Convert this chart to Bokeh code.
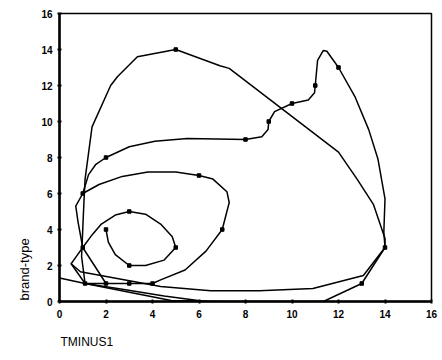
from bokeh.plotting import figure
from bokeh.models import Title, FixedTicker, Range1d
from bokeh.embed import file_html
from bokeh.resources import INLINE

# ---- data (TMINUS1 vs brand-type) ----
# inner spiral, starting at (2,4)
inner_x = [2, 2.1, 2.4, 3, 3.7, 4.5, 5, 4.85, 4.35, 3.7, 3, 2.4, 1.8, 1.4, 1.0, 0.75, 0.5, 1.1]
inner_y = [4, 3.3, 2.6, 2, 2.0, 2.3, 3, 3.6, 4.3, 4.85, 5, 4.8, 4.3, 3.7, 3.0, 2.55, 2.1, 1.0]

# middle loop
mid_x = [1.1, 2, 3, 4, 4.35, 5.4, 6.3, 7, 7.3, 7.2, 6.6, 6, 5, 3.8, 2.7, 1.7, 1.0, 0.7, 0.8, 1.0, 1.5, 2]
mid_y = [1.0, 1, 1, 1, 1.2, 1.75, 2.8, 4, 5.5, 6.1, 6.8, 7, 7.2, 7.2, 6.95, 6.5, 6.0, 5.3, 4.4, 3.0, 2.0, 1]

# outer spiral through (2,8) and up to (12,13)
outer_x = [1.0, 1.25, 1.55, 2, 3, 4.1, 5.5, 8, 8.7, 8.97, 9, 9.25, 10, 10.7, 10.97, 11, 11.1,
           11.35, 11.5, 12, 12.7, 13.3, 13.7, 13.85, 14.0, 13.95, 14]
outer_y = [6.0, 7.05, 7.6, 8, 8.6, 8.9, 9.05, 9, 9.15, 9.55, 10, 10.55, 11, 11.2, 11.6, 12, 13.4,
           13.95, 13.9, 13, 11.4, 9.55, 7.9, 6.8, 5.7, 3.85, 3]

# big loop through (5,14)
big_x = [1.1, 0.95, 1.0, 1.05, 1.1, 1.4, 2.2, 2.5, 3.35, 5, 6.9, 7.3, 12.0, 12.8, 13.5, 14.0, 14]
big_y = [1.0, 2.5, 4.0, 5.5, 6.8, 9.7, 12.0, 12.5, 13.6, 14, 13.1, 12.95, 8.3, 6.8, 5.4, 3.5, 3]

# lower return curve from (14,3)
low_x = [14, 13.07, 10.9, 8.6, 6.5, 4.35, 0.9, 0.5]
low_y = [3, 1.44, 0.72, 0.6, 0.6, 0.83, 1.65, 2.1]

# bottom curves
bot_x = [0, 1.1, 4.8, 7, 9, 11.35, 13, 14]
bot_y = [1.3, 1.0, 0.05, 0.0, 0.0, 0.0, 1, 3]
dip_x = [1.1, 2.5, 4.5, 6.2, 8.1, 10.2, 11.35]
dip_y = [1.0, 0.72, 0.3, 0.02, -0.3, -0.05, 0.0]

# observed data points (markers)
pt_x = [2, 3, 5, 3, 1, 1.1, 2, 3, 4, 7, 6, 1, 2, 8, 9, 10, 11, 12, 14, 13, 5]
pt_y = [4, 2, 3, 5, 3, 1.0, 1, 1, 1, 4, 7, 6, 8, 9, 10, 11, 12, 13, 3, 1, 14]

ticks = [0, 2, 4, 6, 8, 10, 12, 14, 16]
x_title = "TMINUS1"
y_title = "brand-type"

W, H = 438, 360
p = figure(width=W, height=H, output_backend="svg", toolbar_location=None,
           x_range=Range1d(0, 16), y_range=Range1d(0, 16),
           min_border_left=59, min_border_right=7, min_border_top=13, min_border_bottom=57)
p.background_fill_color = "white"
p.border_fill_color = "white"
p.outline_line_color = "black"
p.outline_line_width = 1.5
p.grid.visible = False

for ax in (p.xaxis, p.yaxis):
    ax.ticker = FixedTicker(ticks=ticks)
    ax.minor_tick_line_color = None
    ax.axis_line_width = 2.5
    ax.axis_line_color = "black"
    ax.major_tick_line_width = 2
    ax.major_tick_in = 2
    ax.major_tick_out = 2
    ax.major_label_text_font = "Liberation Sans"
    ax.major_label_text_font_style = "bold"
    ax.major_label_text_font_size = "10px"
    ax.major_label_text_color = "black"
p.xaxis.major_label_standoff = 6
p.yaxis.major_label_standoff = 5

for xs, ys in [(inner_x, inner_y), (mid_x, mid_y), (outer_x, outer_y), (big_x, big_y),
               (low_x, low_y), (bot_x, bot_y), (dip_x, dip_y)]:
    p.line(xs, ys, line_color="black", line_width=1.5, line_join="round")

p.scatter(pt_x, pt_y, marker="square", size=3.5, color="black")

p.add_layout(Title(text=x_title, align="left", offset=1, standoff=24,
                   text_font="Liberation Sans", text_font_size="12px",
                   text_font_style="normal", text_color="black"), "below")
p.add_layout(Title(text=y_title, align="left", offset=1, standoff=14,
                   text_font="Liberation Sans", text_font_size="13px",
                   text_font_style="normal", text_color="black"), "left")

open("out.html", "w").write(file_html(p, INLINE))
